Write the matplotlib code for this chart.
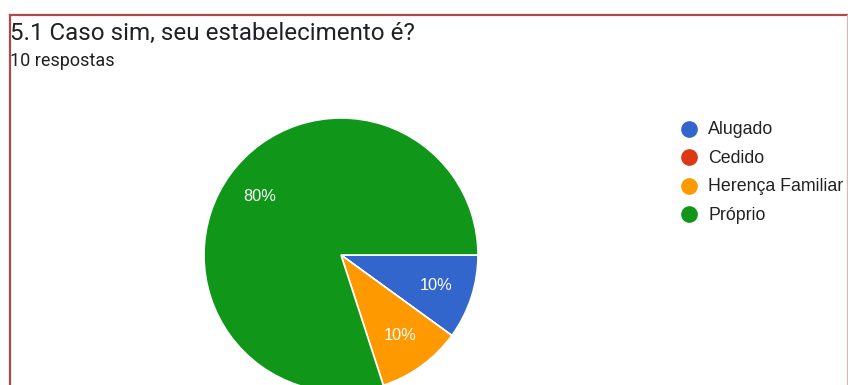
import matplotlib
matplotlib.use("Agg")
import matplotlib.pyplot as plt
from matplotlib.lines import Line2D

# Survey answers for question 5.1
title = "5.1 Caso sim, seu estabelecimento é?"
subtitle = "10 respostas"
categories = ["Alugado", "Cedido", "Herença Familiar", "Próprio"]
counts = [1, 0, 1, 8]
colors = ["#3366cc", "#dc3912", "#ff9900", "#109618"]

W, H = 848, 385
fig = plt.figure(figsize=(W / 100, H / 100), dpi=100)
fig.patch.set_facecolor("white")

plt.rcParams["font.family"] = ["Roboto", "DejaVu Sans"]
chart_font = ["Liberation Sans", "DejaVu Sans"]


def px(x, y):
    # pixel position (from top-left) -> figure fraction
    return x / W, 1 - y / H


# pie: center (341, 255) px, radius 137 px
cx, cy, r = 341, 255, 137
ax = fig.add_axes([(cx - r) / W, (H - cy - r) / H, 2 * r / W, 2 * r / H])


def pct_label(p):
    return f"{p:.0f}%" if p > 0.5 else ""


wedges, texts, autotexts = ax.pie(
    counts,
    colors=colors,
    startangle=0,
    counterclock=False,
    autopct=pct_label,
    pctdistance=0.73,
    wedgeprops=dict(edgecolor="white", linewidth=1.2),
    textprops=dict(color="white", fontsize=11.8, family=chart_font),
)
ax.set_xlim(-1, 1)
ax.set_ylim(-1, 1)
ax.set_aspect("auto")
ax.axis("off")

# title and response count
fig.text(*px(10, 40), title, fontsize=17.4, color="#202124", ha="left", va="baseline")
fig.text(*px(10, 66), subtitle, fontsize=13, color="#202124", ha="left", va="baseline")

# legend with round markers
leg_x, leg_y0, leg_dy = 689, 128.5, 28.6
for i, (name, c) in enumerate(zip(categories, colors)):
    y = leg_y0 + i * leg_dy
    fig.add_artist(Line2D([px(leg_x, y)[0]], [px(leg_x, y)[1]], marker="o",
                          markersize=11, color=c, linestyle="none"))
    fig.text(*px(708, y + 1), name, fontsize=12.8, color="#222222",
             ha="left", va="center", family=chart_font)

# frame lines
lx, ty, rx = 9.5, 14.5, 846.5
fig.add_artist(Line2D([px(lx, ty)[0], px(W, ty)[0]], [px(lx, ty)[1]] * 2,
                      color="#b04a4a", linewidth=1.6))
fig.add_artist(Line2D([px(lx, ty)[0]] * 2, [px(lx, ty)[1], 0],
                      color="#b04a4a", linewidth=1.6))
fig.add_artist(Line2D([px(rx, ty)[0]] * 2, [px(rx, ty)[1], 0],
                      color="#d9b8b8", linewidth=0.9))

fig.savefig("out.png", dpi=100, facecolor="white")
